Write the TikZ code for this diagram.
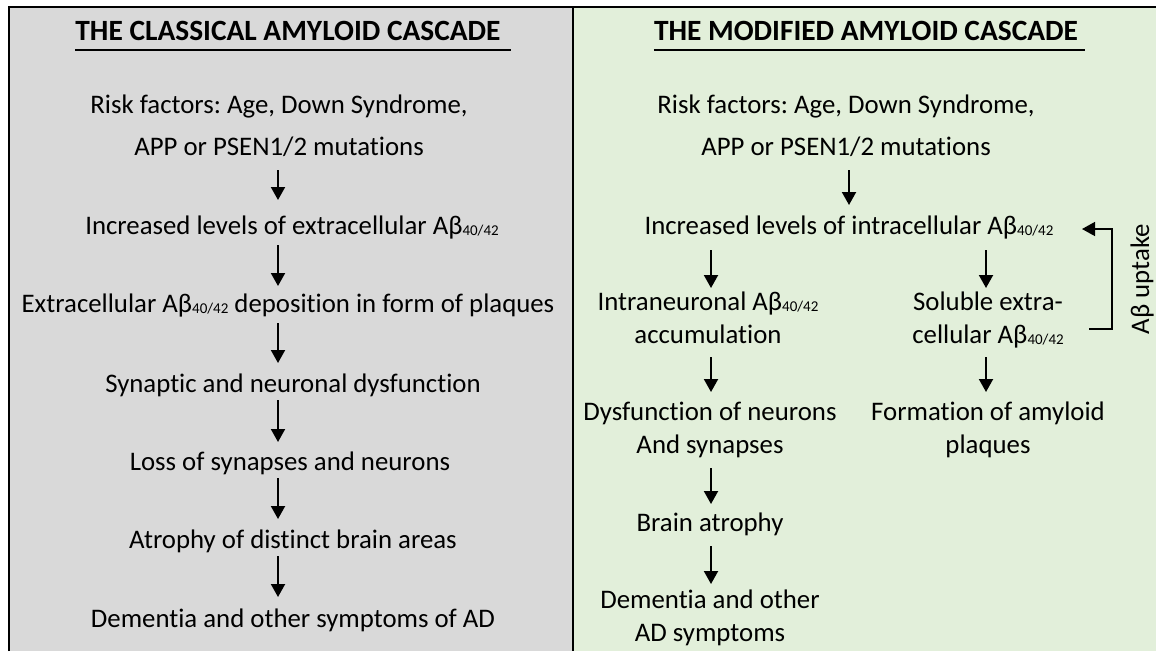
\documentclass[tikz,border=0pt]{standalone}
\usepackage{fontspec}
\setmainfont{Carlito}[RawFeature={-liga}]
\usepackage{xcolor}
\usetikzlibrary{arrows.meta,calc}

\definecolor{panelgray}{HTML}{D9D9D9}
\definecolor{panelgreen}{HTML}{E2EFDA}
\newcommand{\abx}{Aβ{\fontsize{15}{15}\selectfont\raisebox{-1pt}{40/42}}}
\frenchspacing

\begin{document}
\begin{tikzpicture}[
  x=1pt, y=-1pt,
  >={Triangle[width=14pt,length=13pt]},
  txt/.style={inner sep=0pt, anchor=base, align=center, font=\fontsize{26.8}{33}\selectfont},
  ttl/.style={inner sep=0pt, anchor=base, font=\fontsize{29.4}{33}\selectfont\bfseries},
  cascarrow/.style={->, line width=2pt},
  backarr/.style={->, line width=1.5pt},
  uline/.style={line width=1.8pt}
]
\useasboundingbox (0,0) rectangle (1156,651);
\fill[panelgray] (9,7) rectangle (573,651);
\fill[panelgreen] (573,7) rectangle (1156,651);
\draw[line width=1.5pt] (9,651) -- (9,7) -- (1156,7);
\draw[line width=1.5pt] (573,7) -- (573,651);

\coordinate (spineL) at (278,0);
\coordinate (spineR) at (849,0);
\coordinate (spineA) at (711,0);
\coordinate (spineB) at (986,0);

\node[ttl] (ttlL) at (288,40) {THE CLASSICAL AMYLOID CASCADE};
\node[txt] (riskL) at (279,155) {Risk factors: Age, Down Syndrome,\\[9pt]APP or PSEN1/2 mutations};
\node[txt] (incL) at (292,234) {Increased levels of extracellular \abx};
\node[txt] (depL) at (288,312) {Extracellular \abx{} deposition in form of plaques};
\node[txt] (synL) at (293,392) {Synaptic and neuronal dysfunction};
\node[txt] (lossL) at (290,470) {Loss of synapses and neurons};
\node[txt] (atrL) at (293,548) {Atrophy of distinct brain areas};
\node[txt] (demL) at (293,627) {Dementia and other symptoms of AD};

\node[ttl] (ttlR) at (866,40) {THE MODIFIED AMYLOID CASCADE};
\node[txt] (riskR) at (846,155) {Risk factors: Age, Down Syndrome,\\[9pt]APP or PSEN1/2 mutations};
\node[txt] (incR) at (849,234) {Increased levels of intracellular \abx};
\node[txt] (intrR) at (708,343) {Intraneuronal \abx\\accumulation};
\node[txt] (solR) at (988,343) {Soluble extra-\\cellular \abx};
\node[txt] (dysR) at (710,453) {Dysfunction of neurons\\And synapses};
\node[txt] (formR) at (988,453) {Formation of amyloid\\plaques};
\node[txt] (brainR) at (710,531) {Brain atrophy};
\node[txt] (demR) at (710,641) {Dementia and other\\AD symptoms};
\node[txt, anchor=center, rotate=90] (uptR) at (1142,279) {Aβ uptake};

\draw[uline] ($(ttlL.base west)+(0,10)$) -- ($(ttlL.base east)+(10,10)$);
\draw[uline] ($(ttlR.base west)+(0,10)$) -- ($(ttlR.base east)+(7,10)$);

\draw[cascarrow] ($(riskL.base -| spineL)+(0,15)$) -- ($(incL.base -| spineL)+(0,-34)$);
\draw[cascarrow] ($(incL.base -| spineL)+(0,11)$) -- ($(depL.base -| spineL)+(0,-26)$);
\draw[cascarrow] ($(depL.base -| spineL)+(0,11)$) -- ($(synL.base -| spineL)+(0,-29)$);
\draw[cascarrow] ($(synL.base -| spineL)+(0,8)$) -- ($(lossL.base -| spineL)+(0,-28)$);
\draw[cascarrow] ($(lossL.base -| spineL)+(0,8)$) -- ($(atrL.base -| spineL)+(0,-29)$);
\draw[cascarrow] ($(atrL.base -| spineL)+(0,8)$) -- ($(demL.base -| spineL)+(0,-30)$);

\draw[cascarrow] ($(riskR.base -| spineR)+(0,15)$) -- ($(incR.base -| spineR)+(0,-29)$);
\draw[cascarrow] ($(incR.base -| spineA)+(0,16)$) -- ($(intrR.base -| spineA)+(0,-55)$);
\draw[cascarrow] ($(incR.base -| spineB)+(0,16)$) -- ($(solR.base -| spineB)+(0,-55)$);
\draw[cascarrow] ($(intrR.base -| spineA)+(0,14)$) -- ($(dysR.base -| spineA)+(0,-61)$);
\draw[cascarrow] ($(solR.base -| spineB)+(0,14)$) -- ($(formR.base -| spineB)+(0,-61)$);
\draw[cascarrow] ($(dysR.base -| spineA)+(0,15)$) -- ($(brainR.base -| spineA)+(0,-27)$);
\draw[cascarrow] ($(brainR.base -| spineA)+(0,15)$) -- ($(demR.base -| spineA)+(0,-57)$);

\draw[backarr] ($(solR.base)+(101,-14)$) -- ++(23,0) |- ($(incR.base)+(233,-5)$);
\end{tikzpicture}
\end{document}
